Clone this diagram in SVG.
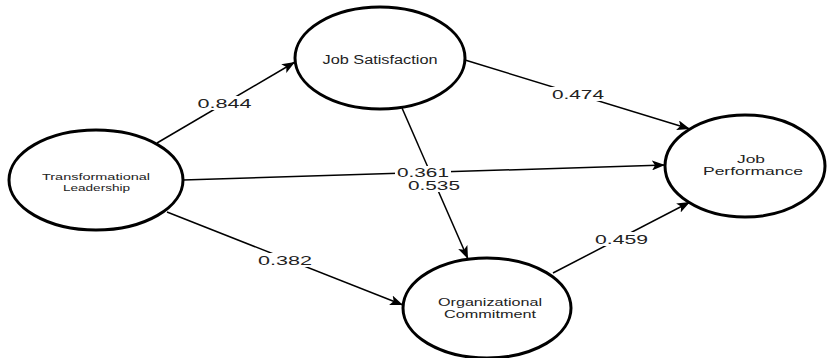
<svg xmlns="http://www.w3.org/2000/svg" width="827" height="358" viewBox="0 0 827 358">
<defs>
<marker id="ah" viewBox="0 0 13 10" refX="13" refY="5" markerWidth="13" markerHeight="10" markerUnits="userSpaceOnUse" orient="auto">
<path d="M0,0 L13,5 L0,10 L3,5 Z" fill="#000"/>
</marker>
<style>
.node{fill:#fff;stroke:#000;stroke-width:3}
.nt{font-family:"Liberation Sans",Arial,sans-serif;font-size:10.5px;fill:#222;text-anchor:middle}
.edge{stroke:#000;stroke-width:1.5;fill:none;marker-end:url(#ah)}
.lbg{fill:#fff}
.el{font-family:"Liberation Sans",Arial,sans-serif;font-size:13px;fill:#222;text-anchor:middle}
</style>
</defs>
<rect width="827" height="358" fill="#fff"/>
<g id="connectors">
<line class="edge" x1="157" y1="143" x2="295" y2="62"/>
<line class="edge" x1="183" y1="180" x2="665" y2="165"/>
<line class="edge" x1="167" y1="212" x2="403" y2="305"/>
<line class="edge" x1="465" y1="60" x2="690" y2="129"/>
<line class="edge" x1="402" y1="108" x2="468" y2="259"/>
<line class="edge" x1="553" y1="273" x2="690" y2="202"/>
<rect class="lbg" x="196" y="96" width="57" height="14"/>
<text class="el" x="224.5" y="108" textLength="54" lengthAdjust="spacingAndGlyphs">0.844</text>
<rect class="lbg" x="550" y="87" width="56" height="14"/>
<text class="el" x="578" y="99" textLength="52" lengthAdjust="spacingAndGlyphs">0.474</text>
<rect class="lbg" x="395" y="166" width="56" height="13"/>
<text class="el" x="423" y="177" textLength="52" lengthAdjust="spacingAndGlyphs">0.361</text>
<rect class="lbg" x="406" y="179" width="56" height="13"/>
<text class="el" x="434" y="190" textLength="52" lengthAdjust="spacingAndGlyphs">0.535</text>
<rect class="lbg" x="256" y="253" width="58" height="14"/>
<text class="el" x="285" y="265" textLength="54" lengthAdjust="spacingAndGlyphs">0.382</text>
<rect class="lbg" x="593" y="232" width="57" height="14"/>
<text class="el" x="621.5" y="244" textLength="53" lengthAdjust="spacingAndGlyphs">0.459</text>
</g>
<g id="node-tl">
<ellipse class="node" cx="96" cy="180" rx="87" ry="50"/>
<text class="nt" x="96" y="179.5" style="font-size:9.5px" textLength="108" lengthAdjust="spacingAndGlyphs">Transformational</text>
<text class="nt" x="96.5" y="190.5" style="font-size:9.5px" textLength="67" lengthAdjust="spacingAndGlyphs">Leadership</text>
</g>
<g id="node-js">
<ellipse class="node" cx="380" cy="58" rx="85" ry="51"/>
<text class="nt" x="380" y="64" style="font-size:12px" textLength="115" lengthAdjust="spacingAndGlyphs">Job Satisfaction</text>
</g>
<g id="node-jp">
<ellipse class="node" cx="745" cy="166" rx="80" ry="51"/>
<text class="nt" x="751" y="163" textLength="28" lengthAdjust="spacingAndGlyphs">Job</text>
<text class="nt" x="753" y="175" textLength="100" lengthAdjust="spacingAndGlyphs">Performance</text>
</g>
<g id="node-oc">
<ellipse class="node" cx="487" cy="308" rx="84" ry="50"/>
<text class="nt" x="490" y="306" textLength="104" lengthAdjust="spacingAndGlyphs">Organizational</text>
<text class="nt" x="490" y="318" textLength="92" lengthAdjust="spacingAndGlyphs">Commitment</text>
</g>
</svg>
